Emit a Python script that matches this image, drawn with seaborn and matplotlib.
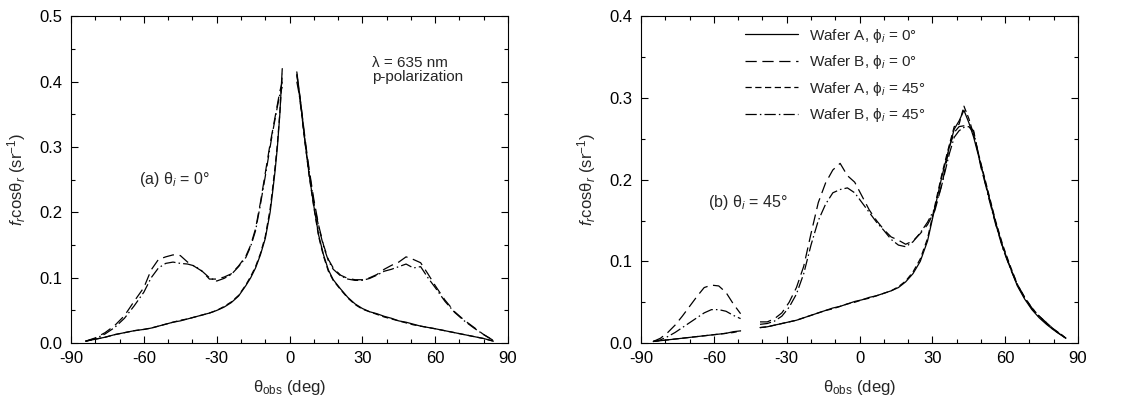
import numpy as np
import pandas as pd
import matplotlib
matplotlib.use("Agg")
import matplotlib.pyplot as plt
import seaborn as sns
from matplotlib.ticker import MultipleLocator, FormatStrFormatter

# ---------------- data: panel (a), theta_i = 0 ----------------
a_x_neg = [-84, -80, -76, -72, -68, -64, -60, -57, -54, -51, -48, -45, -42, -39, -36, -33,
           -30, -27, -24, -21, -18, -16, -14, -12, -10, -8, -7, -6, -5, -4, -3]
a_x_pos = [3, 4, 5, 6, 7, 8, 10, 12, 14, 16, 18, 21, 24, 27, 30, 33, 36, 39, 42, 45, 48,
           51, 54, 57, 60, 64, 68, 72, 76, 80, 84]

a_A0_neg = [0.003, 0.006, 0.009, 0.013, 0.016, 0.019, 0.021, 0.023, 0.026, 0.029, 0.032, 0.034,
            0.037, 0.040, 0.043, 0.046, 0.050, 0.055, 0.062, 0.072, 0.088, 0.100, 0.115, 0.135,
            0.160, 0.200, 0.230, 0.262, 0.300, 0.350, 0.420]
a_B0_neg = [0.003, 0.008, 0.016, 0.027, 0.042, 0.064, 0.085, 0.112, 0.128, 0.132, 0.135, 0.134,
            0.124, 0.117, 0.110, 0.098, 0.098, 0.101, 0.106, 0.118, 0.133, 0.150, 0.175, 0.215,
            0.260, 0.305, 0.325, 0.345, 0.365, 0.385, 0.400]
a_A45_neg = [0.003, 0.006, 0.009, 0.013, 0.016, 0.019, 0.021, 0.023, 0.026, 0.029, 0.032, 0.035,
             0.037, 0.040, 0.043, 0.046, 0.050, 0.056, 0.063, 0.073, 0.089, 0.102, 0.117, 0.137,
             0.163, 0.205, 0.236, 0.268, 0.305, 0.352, 0.412]
a_B45_neg = [0.003, 0.007, 0.014, 0.024, 0.038, 0.057, 0.078, 0.100, 0.115, 0.122, 0.124, 0.122,
             0.121, 0.118, 0.110, 0.100, 0.095, 0.099, 0.105, 0.117, 0.131, 0.148, 0.172, 0.212,
             0.255, 0.300, 0.322, 0.342, 0.362, 0.380, 0.392]

a_A0_pos = [0.415, 0.385, 0.355, 0.320, 0.290, 0.260, 0.210, 0.165, 0.135, 0.112, 0.097, 0.083,
            0.070, 0.060, 0.053, 0.048, 0.045, 0.041, 0.038, 0.034, 0.032, 0.029, 0.026, 0.024,
            0.022, 0.019, 0.016, 0.013, 0.010, 0.007, 0.003]
a_B0_pos = [0.410, 0.385, 0.355, 0.325, 0.295, 0.268, 0.220, 0.180, 0.150, 0.128, 0.115, 0.104,
            0.099, 0.097, 0.097, 0.100, 0.105, 0.113, 0.119, 0.124, 0.132, 0.128, 0.123, 0.106,
            0.088, 0.066, 0.048, 0.035, 0.024, 0.013, 0.004]
a_A45_pos = [0.412, 0.382, 0.352, 0.318, 0.288, 0.258, 0.208, 0.163, 0.133, 0.110, 0.096, 0.082,
             0.069, 0.059, 0.052, 0.048, 0.044, 0.040, 0.037, 0.034, 0.031, 0.028, 0.026, 0.024,
             0.022, 0.019, 0.016, 0.013, 0.010, 0.007, 0.003]
a_B45_pos = [0.400, 0.380, 0.350, 0.320, 0.290, 0.265, 0.215, 0.178, 0.148, 0.126, 0.113, 0.103,
             0.098, 0.096, 0.096, 0.099, 0.104, 0.110, 0.113, 0.117, 0.121, 0.115, 0.117, 0.100,
             0.085, 0.064, 0.047, 0.034, 0.023, 0.013, 0.004]

# ---------------- data: panel (b), theta_i = 45 ----------------
b_x_1 = [-85, -82, -79, -76, -73, -70, -67, -64, -61, -58, -55, -52, -49]
b_x_2 = [-41, -38, -35, -32, -29, -26, -23, -20, -17, -14, -11, -8, -5, -2, 1, 4, 7, 10, 13, 16,
         19, 22, 25, 28, 31, 34, 37, 39, 41, 43, 45, 47, 50, 53, 56, 59, 62, 65, 68, 71, 74, 77,
         80, 83, 85]

b_A0_1 = [0.002, 0.003, 0.004, 0.005, 0.006, 0.007, 0.008, 0.009, 0.010, 0.011, 0.012, 0.014, 0.015]
b_B0_1 = [0.002, 0.006, 0.013, 0.022, 0.033, 0.045, 0.057, 0.068, 0.071, 0.070, 0.062, 0.048, 0.036]
b_A45_1 = [0.002, 0.003, 0.004, 0.005, 0.006, 0.007, 0.008, 0.009, 0.010, 0.011, 0.012, 0.013, 0.015]
b_B45_1 = [0.002, 0.004, 0.008, 0.013, 0.019, 0.025, 0.031, 0.037, 0.041, 0.041, 0.039, 0.034, 0.030]

b_A0_2 = [0.019, 0.020, 0.022, 0.024, 0.026, 0.028, 0.031, 0.034, 0.037, 0.040, 0.043, 0.045,
          0.048, 0.051, 0.053, 0.056, 0.058, 0.061, 0.064, 0.068, 0.075, 0.085, 0.100, 0.125,
          0.165, 0.205, 0.240, 0.262, 0.272, 0.285, 0.270, 0.252, 0.218, 0.183, 0.148, 0.118,
          0.093, 0.070, 0.054, 0.041, 0.031, 0.023, 0.016, 0.010, 0.006]
b_B0_2 = [0.026, 0.026, 0.030, 0.037, 0.050, 0.068, 0.094, 0.134, 0.172, 0.196, 0.212, 0.220,
          0.205, 0.197, 0.180, 0.163, 0.150, 0.139, 0.130, 0.126, 0.121, 0.125, 0.134, 0.145,
          0.162, 0.195, 0.240, 0.258, 0.265, 0.266, 0.265, 0.260, 0.215, 0.182, 0.147, 0.117,
          0.093, 0.072, 0.056, 0.043, 0.033, 0.025, 0.017, 0.010, 0.006]
b_A45_2 = [0.019, 0.020, 0.022, 0.024, 0.026, 0.028, 0.031, 0.034, 0.037, 0.040, 0.042, 0.045,
           0.048, 0.050, 0.053, 0.055, 0.058, 0.061, 0.064, 0.069, 0.076, 0.087, 0.103, 0.128,
           0.168, 0.208, 0.243, 0.265, 0.268, 0.290, 0.275, 0.255, 0.220, 0.185, 0.150, 0.120,
           0.095, 0.072, 0.056, 0.043, 0.033, 0.025, 0.017, 0.011, 0.006]
b_B45_2 = [0.023, 0.024, 0.027, 0.033, 0.044, 0.060, 0.085, 0.120, 0.150, 0.170, 0.184, 0.188,
           0.190, 0.184, 0.172, 0.160, 0.148, 0.138, 0.127, 0.120, 0.118, 0.124, 0.135, 0.148,
           0.165, 0.195, 0.232, 0.252, 0.260, 0.264, 0.265, 0.258, 0.218, 0.180, 0.146, 0.116,
           0.092, 0.071, 0.055, 0.042, 0.032, 0.024, 0.016, 0.010, 0.006]

series_labels = ["Wafer A, ϕ$_i$ = 0°", "Wafer B, ϕ$_i$ = 0°",
                 "Wafer A, ϕ$_i$ = 45°", "Wafer B, ϕ$_i$ = 45°"]

# ---------------- style ----------------
sns.set_style("ticks")
plt.rcParams["font.family"] = ["Liberation Sans", "DejaVu Sans"]
plt.rcParams["mathtext.fontset"] = "custom"
plt.rcParams["mathtext.rm"] = "Liberation Sans"
plt.rcParams["mathtext.it"] = "Liberation Sans:italic"
plt.rcParams["mathtext.bf"] = "Liberation Sans:bold"
plt.rcParams["axes.unicode_minus"] = False

line_styles = ["-", (0, (9, 4.5)), (0, (5, 2.8)), (0, (9, 2.5, 1.2, 2.5))]
LW = 0.9

fig = plt.figure(figsize=(11.33, 4.08), dpi=100)
axL = fig.add_axes([0.0627, 0.159, 0.3857, 0.801])
axR = fig.add_axes([0.5658, 0.159, 0.3857, 0.801])

panel_a = [
    [(a_x_neg, a_A0_neg), (a_x_pos, a_A0_pos)],
    [(a_x_neg, a_B0_neg), (a_x_pos, a_B0_pos)],
    [(a_x_neg, a_A45_neg), (a_x_pos, a_A45_pos)],
    [(a_x_neg, a_B45_neg), (a_x_pos, a_B45_pos)],
]
panel_b = [
    [(b_x_1, b_A0_1), (b_x_2, b_A0_2)],
    [(b_x_1, b_B0_1), (b_x_2, b_B0_2)],
    [(b_x_1, b_A45_1), (b_x_2, b_A45_2)],
    [(b_x_1, b_B45_1), (b_x_2, b_B45_2)],
]

for ax, panel in [(axL, panel_a), (axR, panel_b)]:
    for k, segs in enumerate(panel):
        for j, (xs, ys) in enumerate(segs):
            df = pd.DataFrame({"x": xs, "y": ys})
            sns.lineplot(data=df, x="x", y="y", ax=ax, color="black", lw=LW,
                         linestyle=line_styles[k], sort=False, estimator=None,
                         label=(series_labels[k] if (j == 0 and ax is axR) else None))

for ax, ymax in [(axL, 0.5), (axR, 0.4)]:
    ax.set_xlim(-90, 90)
    ax.set_ylim(0, ymax)
    ax.xaxis.set_major_locator(MultipleLocator(30))
    ax.xaxis.set_minor_locator(MultipleLocator(10))
    ax.yaxis.set_major_locator(MultipleLocator(0.1))
    ax.yaxis.set_minor_locator(MultipleLocator(0.05))
    ax.yaxis.set_major_formatter(FormatStrFormatter("%.1f"))
    ax.tick_params(which="both", direction="in", top=True, right=True, labelsize=12,
                   width=0.8, colors="black")
    ax.tick_params(which="major", length=5, pad=6)
    ax.tick_params(which="minor", length=3)
    for s in ax.spines.values():
        s.set_visible(True)
        s.set_linewidth(0.8)
        s.set_color("black")
    ax.set_xlabel(r"θ$_\mathrm{obs}$ (deg)", fontsize=12, labelpad=8)
    ax.set_ylabel(r"$f_r$cosθ$_r$ (sr$^{-1}$)", fontsize=12, labelpad=8)

axL.text(-62.0, 0.250, r"(a) θ$_i$ = 0°", fontsize=11.5, va="center", ha="left")
axL.text(34.0, 0.418, "λ = 635 nm\np-polarization", fontsize=11, va="center", ha="left",
         linespacing=1.0)
axR.text(-62.5, 0.172, r"(b) θ$_i$ = 45°", fontsize=11.5, va="center", ha="left")

leg = axR.legend(loc="upper left", bbox_to_anchor=(0.238, 0.968), frameon=False,
                 fontsize=11, handlelength=3.45, handletextpad=0.72, labelspacing=0.55,
                 borderpad=0, borderaxespad=0)
for h in leg.get_lines():
    h.set_linewidth(LW)

fig.savefig("out.png", dpi=100)
